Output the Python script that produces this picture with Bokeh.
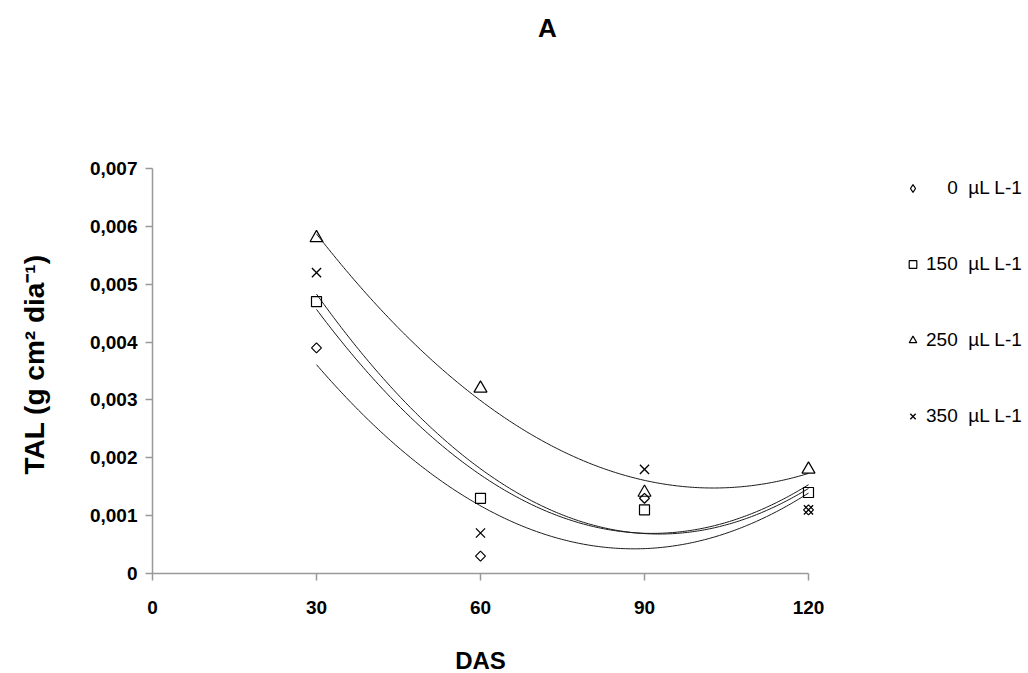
import numpy as np
from bokeh.plotting import figure
from bokeh.models import (Legend, LegendItem, Label, CustomJSTickFormatter,
                          FixedTicker, Range1d, LinearAxis)
from bokeh.embed import file_html
from bokeh.resources import INLINE

# ---- data ----
das = [30, 60, 90, 120]
tal_0 = [0.0039, 0.0003, 0.0013, 0.0011]
tal_150 = [0.0047, 0.0013, 0.0011, 0.0014]
tal_250 = [0.0058, 0.0032, 0.0014, 0.0018]
tal_350 = [0.0052, 0.0007, 0.0018, 0.0011]
legend_labels = ["\u2007\u20070  µL L-1", "150  µL L-1", "250  µL L-1", "350  µL L-1"]
x_ticks = [0, 30, 60, 90, 120]
y_ticks = [0, 0.001, 0.002, 0.003, 0.004, 0.005, 0.006, 0.007]
title_text = "A"
x_label = "DAS"
y_label = "TAL (g cm² dia⁻¹)"

FONT = "Liberation Sans"

# Layout: the whole canvas is the frame; axes sit at fixed data locations.
W, H = 1028, 673
X0_PX, X120_PX = 152, 808        # pixel columns of x = 0 and x = 120
Y0_PX, Y7_PX = 573, 168          # pixel rows of y = 0 and y = 0.007
X_MAX, Y_MAX = 120, 0.007
kx = (X120_PX - X0_PX) / X_MAX
ky = (Y0_PX - Y7_PX) / Y_MAX
x_range = Range1d(-X0_PX / kx, (W - X0_PX) / kx)
y_range = Range1d(-(H - Y0_PX) / ky, Y0_PX / ky)

p = figure(width=W, height=H, output_backend="svg", toolbar_location=None,
           x_range=x_range, y_range=y_range,
           x_axis_location=None, y_axis_location=None,
           min_border=0, min_border_left=0, min_border_right=0,
           min_border_top=0, min_border_bottom=0)
p.outline_line_color = None
p.xgrid.visible = False
p.ygrid.visible = False
p.background_fill_color = "white"
p.border_fill_color = "white"

xaxis = LinearAxis(fixed_location=0, bounds=(0, X_MAX),
                   ticker=FixedTicker(ticks=x_ticks))
yaxis = LinearAxis(fixed_location=0, bounds=(0, Y_MAX),
                   ticker=FixedTicker(ticks=y_ticks),
                   formatter=CustomJSTickFormatter(
                       code="return tick == 0 ? '0' : tick.toFixed(3).replace('.', ',');"))
for ax in (xaxis, yaxis):
    ax.axis_line_color = "#999999"
    ax.axis_line_width = 1.5
    ax.major_tick_line_color = "#999999"
    ax.major_tick_line_width = 1.5
    ax.major_tick_out = 7
    ax.major_tick_in = 0
    ax.minor_tick_line_color = None
    ax.major_label_text_font = FONT
    ax.major_label_text_font_style = "bold"
    ax.major_label_text_font_size = "19px"
    ax.major_label_text_color = "black"
xaxis.major_label_standoff = 20
yaxis.major_label_standoff = 8
p.add_layout(xaxis, "below")
p.add_layout(yaxis, "left")

series = [tal_0, tal_150, tal_250, tal_350]
xs = np.linspace(das[0], das[-1], 200)
for ys in series:
    coef = np.polyfit(das, ys, 2)
    p.line(xs, np.polyval(coef, xs), line_color="#1a1a1a", line_width=1)

# 0 µL: squat diamond markers (rotated square); a diamond renderer supplies
# the legend glyph (its own marks have zero size).
p.scatter(das, tal_0, marker="square", angle=np.pi / 4, size=7,
          line_color="black", line_width=1.2, fill_color=None)
r0 = p.scatter(das, tal_0, marker="diamond", size=0,
               line_color="black", line_width=1.2, fill_color=None)
r1 = p.scatter(das, tal_150, marker="square", size=10,
               line_color="black", line_width=1.2, fill_color=None)
r2 = p.scatter(das, tal_250, marker="triangle", size=13,
               line_color="black", line_width=1.2, fill_color=None)
r3 = p.scatter(das, tal_350, marker="x", size=13,
               line_color="black", line_width=1.3)

items = [LegendItem(label=lab, renderers=[r]) for lab, r in
         zip(legend_labels, [r0, r1, r2, r3])]
legend = Legend(items=items, location=(903, 245), orientation="vertical",
                glyph_width=19, glyph_height=24, label_height=24, spacing=52,
                label_standoff=4, padding=0, margin=0, border_line_color=None,
                background_fill_alpha=0, label_text_font=FONT,
                label_text_font_size="19px", label_text_color="black")
p.add_layout(legend)

# title and axis titles (placed in the blank margins of the frame)
p.add_layout(Label(x=(547 - X0_PX) / kx, y=(Y0_PX - 27.5) / ky, text=title_text,
                   text_align="center", text_baseline="middle", text_font=FONT,
                   text_font_style="bold", text_font_size="26px", text_color="black"))
p.add_layout(Label(x=X_MAX / 2, y=(Y0_PX - 660) / ky, text=x_label,
                   text_align="center", text_baseline="middle", text_font=FONT,
                   text_font_style="bold", text_font_size="24px", text_color="black"))
p.add_layout(Label(x=(34 - X0_PX) / kx, y=(Y0_PX - 364) / ky, text=y_label,
                   angle=np.pi / 2, text_align="center", text_baseline="middle",
                   text_font=FONT, text_font_style="bold", text_font_size="28px",
                   text_color="black"))

open("out.html", "w").write(file_html(p, INLINE))
